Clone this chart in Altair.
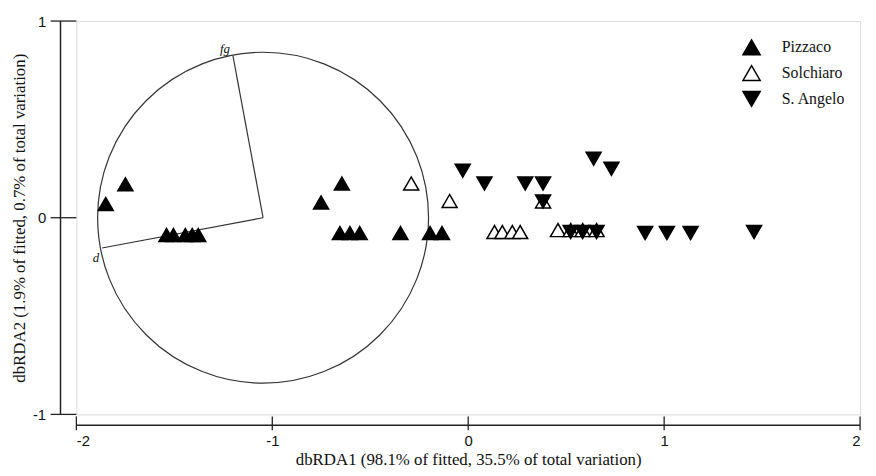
import altair as alt
import pandas as pd

sites = ["Pizzaco", "Solchiaro", "S. Angelo"]

pizzaco_x = [-1.85, -1.75, -1.54, -1.505, -1.444, -1.409, -1.378,
             -0.751, -0.645, -0.655, -0.604, -0.554, -0.346, -0.195, -0.134]
pizzaco_y = [0.07, 0.17, -0.088, -0.088, -0.088, -0.088, -0.088,
             0.078, 0.174, -0.078, -0.078, -0.078, -0.078, -0.078, -0.078]

solchiaro_x = [-0.291, -0.095, 0.134, 0.174, 0.225, 0.265, 0.382,
               0.458, 0.523, 0.584, 0.655]
solchiaro_y = [0.174, 0.085, -0.073, -0.073, -0.073, -0.073, 0.083,
               -0.063, -0.063, -0.063, -0.063]

angelo_x = [-0.028, 0.083, 0.291, 0.382, 0.382, 0.640, 0.731,
            0.523, 0.584, 0.655, 0.903, 1.014, 1.135, 1.459]
angelo_y = [0.239, 0.174, 0.174, 0.174, 0.083, 0.300, 0.249,
            -0.073, -0.073, -0.073, -0.078, -0.078, -0.078, -0.073]

# correlation circle and vectors
circle_center = [-1.047, 0.0]
vector_names = ["fg", "d"]
vector_x = [-1.201, -1.869]
vector_y = [0.824, -0.154]

x_ticks = [-2, -1, 0, 1, 2]
y_ticks = [-1, 0, 1]

x_title = "dbRDA1 (98.1% of fitted, 35.5% of total variation)"
y_title = "dbRDA2 (1.9% of fitted, 0.7% of total variation)"

SERIF = "Liberation Serif"
SANS = "Liberation Sans"
INK = "#111111"
W, H = 791, 397

rows = []
for s, xs, ys in [(sites[0], pizzaco_x, pizzaco_y),
                  (sites[1], solchiaro_x, solchiaro_y),
                  (sites[2], angelo_x, angelo_y)]:
    for a, b in zip(xs, ys):
        rows.append({"x": a, "y": b, "site": s})
pts = pd.DataFrame(rows)

xscale = alt.Scale(domain=[-2, 2], nice=False, zero=False)
yscale = alt.Scale(domain=[-1, 1], nice=False, zero=False)
xaxis = alt.Axis(values=x_ticks, domain=False, ticks=False, grid=False,
                 labelExpr="datum.value + ''", labelFont=SANS, labelFontSize=15,
                 labelColor=INK, labelPadding=19, titleFont=SERIF,
                 titleFontSize=17, titleFontWeight="normal", titleColor=INK,
                 titlePadding=4)
yaxis = alt.Axis(values=y_ticks, domain=False, ticks=False, grid=False,
                 labelExpr="datum.value + ''", labelFont=SANS, labelFontSize=15,
                 labelColor=INK, labelPadding=31, titleFont=SERIF,
                 titleFontSize=17, titleFontWeight="normal", titleColor=INK,
                 titlePadding=4)


def X(field="x"):
    return alt.X(f"{field}:Q", scale=xscale, axis=xaxis, title=x_title)


def Y(field="y"):
    return alt.Y(f"{field}:Q", scale=yscale, axis=yaxis, title=y_title)


# circle
circ = alt.Chart(pd.DataFrame({"x": [circle_center[0]], "y": [circle_center[1]]})).mark_point(
    shape="circle", filled=False, stroke="#333333", strokeWidth=1.2, opacity=1
).encode(x=X(), y=Y(), size=alt.value(334 * 334))

vec_df = pd.DataFrame({"x": [circle_center[0]] * 2, "y": [circle_center[1]] * 2,
                       "x2": vector_x, "y2": vector_y})
vecs = alt.Chart(vec_df).mark_rule(color="#333333", strokeWidth=1.2).encode(
    x=X(), y=Y(), x2="x2:Q", y2="y2:Q")

lab_fg = alt.Chart(pd.DataFrame({"x": [vector_x[0]], "y": [vector_y[0]], "t": [vector_names[0]]})).mark_text(
    font=SERIF, fontStyle="italic", fontSize=13, color=INK, dx=-8, dy=-7
).encode(x=X(), y=Y(), text="t:N")
lab_d = alt.Chart(pd.DataFrame({"x": [vector_x[1]], "y": [vector_y[1]], "t": [vector_names[1]]})).mark_text(
    font=SERIF, fontStyle="italic", fontSize=13, color=INK, dx=-6, dy=10
).encode(x=X(), y=Y(), text="t:N")

# manual axes (domain lines and ticks)
xdom = alt.Chart(pd.DataFrame({"x": [x_ticks[0]], "x2": [x_ticks[-1]]})).mark_rule(
    color="#222222", strokeWidth=1.5).encode(x=X(), x2="x2:Q", y=alt.value(H + 11))
xtk = alt.Chart(pd.DataFrame({"x": x_ticks})).mark_rule(
    color="#222222", strokeWidth=1.3).encode(x=X(), y=alt.value(H + 2), y2=alt.value(H + 16))
ydom = alt.Chart(pd.DataFrame({"y": [y_ticks[-1]], "y2": [y_ticks[0]]})).mark_rule(
    color="#222222", strokeWidth=1.5).encode(y=Y(), y2="y2:Q", x=alt.value(-16))
ytk = alt.Chart(pd.DataFrame({"y": y_ticks})).mark_rule(
    color="#222222", strokeWidth=1.3).encode(y=Y(), x=alt.value(-26), x2=alt.value(0))


def legend():
    return alt.Legend(title=None, orient="none", legendX=672, legendY=17,
                      symbolSize=300, symbolStrokeWidth=1.5,
                      labelFont=SERIF, labelFontSize=16, labelColor=INK,
                      labelOffset=21, rowPadding=5, padding=0)


points = alt.Chart(pts).mark_point(
    filled=False, strokeWidth=1.5, size=230, opacity=1, fillOpacity=1
).encode(
    x=X(), y=Y(),
    shape=alt.Shape("site:N", scale=alt.Scale(domain=sites, range=["triangle-up", "triangle-up", "triangle-down"]),
                    legend=legend()),
    fill=alt.Fill("site:N", scale=alt.Scale(domain=sites, range=["black", "white", "black"]),
                  legend=legend()),
    stroke=alt.Stroke("site:N", scale=alt.Scale(domain=sites, range=["black", "black", "black"]),
                      legend=legend()),
)

chart = alt.layer(circ, vecs, lab_fg, lab_d, xdom, xtk, ydom, ytk, points).properties(
    width=W, height=H,
    autosize=alt.AutoSizeParams(type="none"),
    padding={"left": 69, "top": 11, "right": 8, "bottom": 60},
).configure_view(stroke=None).configure(background="white")

chart.save("out.html", embed_options={"renderer": "svg", "actions": False})
